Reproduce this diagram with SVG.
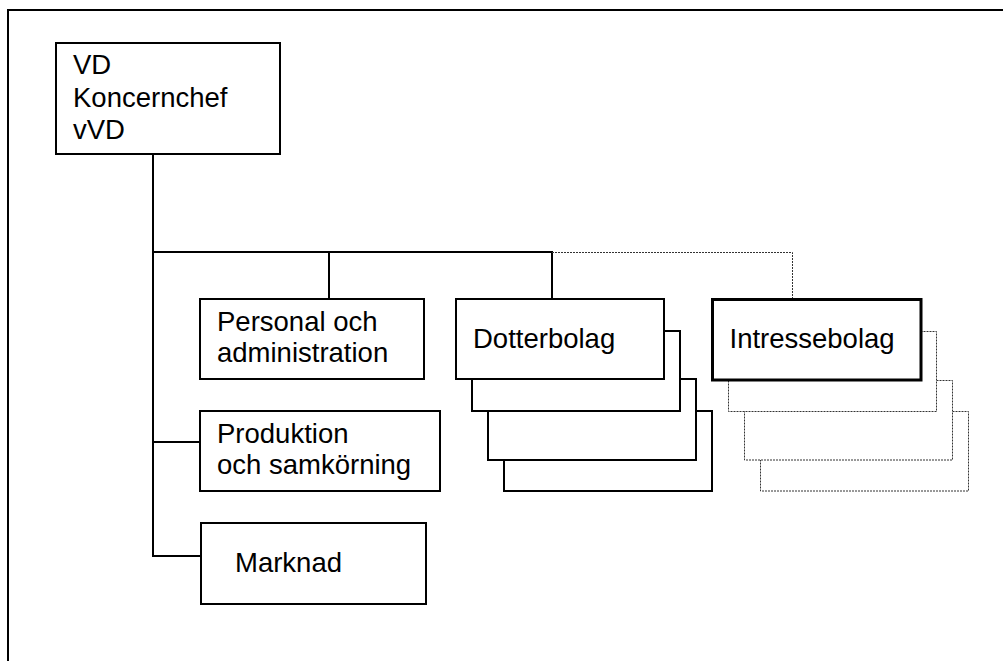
<svg xmlns="http://www.w3.org/2000/svg" width="1003" height="661" viewBox="0 0 1003 661">
<style>
.box{fill:#fff;stroke:#000;stroke-width:2}
.thick{fill:#fff;stroke:#000;stroke-width:3}
.dot{fill:#fff;stroke:#333;stroke-width:1;stroke-dasharray:2,1}
.ln{fill:none;stroke:#000;stroke-width:2}
.dln{fill:none;stroke:#333;stroke-width:1;stroke-dasharray:2,1}
text{font-family:"Liberation Sans",Arial,sans-serif;font-size:27.5px;fill:#000}
</style>
<rect width="1003" height="661" fill="#fff"/>
<path id="frame" class="ln" d="M8,661 V10 H1003"/>
<g id="connectors">
<path class="ln" d="M153,154 V556 H201"/>
<path class="ln" d="M153,442 H200"/>
<path class="ln" d="M153,252 H552 V299"/>
<path class="ln" d="M329,252 V299"/>
<path class="dln" d="M552,252.5 H792.5 V299"/>
</g>
<g id="vd">
<rect class="box" x="56" y="43" width="224" height="111"/>
<text x="73" y="74">VD</text>
<text x="73" y="106.5">Koncernchef</text>
<text x="73" y="138.5">vVD</text>
</g>
<g id="personal">
<rect class="box" x="200" y="299" width="224" height="80"/>
<text x="217" y="331">Personal och</text>
<text x="217" y="361.5">administration</text>
</g>
<g id="produktion">
<rect class="box" x="200" y="411" width="240" height="80"/>
<text x="217" y="443">Produktion</text>
<text x="217" y="473.5">och samkörning</text>
</g>
<g id="marknad">
<rect class="box" x="201" y="523" width="225" height="81"/>
<text x="235" y="572">Marknad</text>
</g>
<g id="dotterbolag">
<rect class="box" x="504" y="411" width="208" height="80"/>
<rect class="box" x="488" y="379" width="208" height="81"/>
<rect class="box" x="472" y="331" width="208" height="80"/>
<rect class="box" x="456" y="299" width="208" height="80"/>
<text x="473" y="347.5">Dotterbolag</text>
</g>
<g id="intressebolag">
<rect class="dot" x="760.5" y="411.5" width="208" height="79.5"/>
<rect class="dot" x="744.5" y="380.5" width="208" height="79.5"/>
<rect class="dot" x="728.5" y="331.5" width="208" height="80"/>
<rect class="thick" x="712.5" y="299.5" width="208.5" height="80.5"/>
<text x="729.5" y="347.5">Intressebolag</text>
</g>
</svg>
